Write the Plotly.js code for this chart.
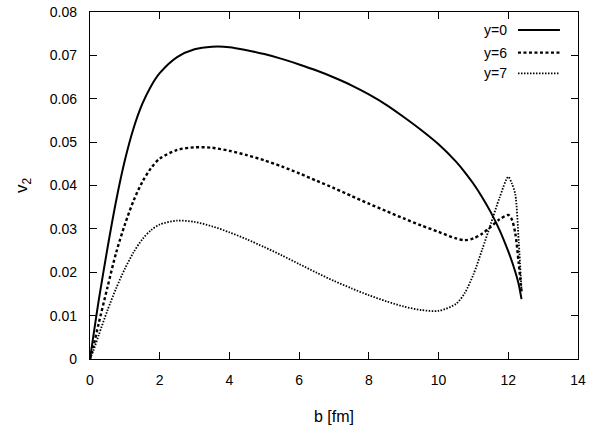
<!DOCTYPE html>
<html>
<head>
<meta charset="utf-8">
<script src="https://cdn.plot.ly/plotly-3.0.1.min.js"></script>
<style>html,body{margin:0;padding:0;background:#fff;}#chart{width:596px;height:425px;}</style>
</head>
<body>
<div id="chart"></div>
<script>
// impact parameter b [fm]
const bValues = [0, 0.1, 0.25, 0.5, 0.75, 1, 1.25, 1.5, 1.75, 2, 2.5, 3, 3.5, 4, 4.5, 5, 5.5, 6, 6.5, 7, 7.5, 8, 8.5, 9, 9.5, 10, 10.5, 10.75, 11, 11.25, 11.5, 11.75, 12, 12.1, 12.2, 12.3, 12.38];
// v2 at rapidity y=0
const v2_y0 = [0, 0.0055, 0.0135, 0.0255, 0.0365, 0.0458, 0.0532, 0.0588, 0.0629, 0.0659, 0.0696, 0.0714, 0.072, 0.0719, 0.0712, 0.0703, 0.0692, 0.0679, 0.0665, 0.0649, 0.0631, 0.061, 0.0586, 0.0558, 0.0528, 0.0495, 0.0455, 0.0431, 0.0404, 0.0373, 0.0338, 0.0297, 0.0248, 0.0226, 0.0201, 0.0172, 0.0138];
// v2 at rapidity y=6
const v2_y6 = [0, 0.003, 0.0082, 0.0165, 0.0245, 0.031, 0.0365, 0.0408, 0.044, 0.0462, 0.0482, 0.0488, 0.0487, 0.048, 0.047, 0.0458, 0.0444, 0.0428, 0.0411, 0.0394, 0.0376, 0.0358, 0.0341, 0.0324, 0.0308, 0.0293, 0.0278, 0.0274, 0.0278, 0.0289, 0.0305, 0.0322, 0.0332, 0.0322, 0.029, 0.022, 0.0155];
// v2 at rapidity y=7
const v2_y7 = [0, 0.002, 0.0055, 0.0112, 0.0163, 0.0208, 0.0246, 0.0276, 0.0297, 0.031, 0.0319, 0.0316, 0.0306, 0.0292, 0.0276, 0.0258, 0.0239, 0.0219, 0.0199, 0.018, 0.0163, 0.0147, 0.0133, 0.0121, 0.0113, 0.0111, 0.0127, 0.0152, 0.0195, 0.0252, 0.0312, 0.0372, 0.042, 0.0405, 0.038, 0.027, 0.0158];

const seriesNames = ['y=0', 'y=6', 'y=7'];
const seriesData = [v2_y0, v2_y6, v2_y7];
const dashes = ['solid', '3px,2.5px', '1.5px,1.5px'];
const widths = [2, 2.4, 1.8];

const xTicks = [0, 2, 4, 6, 8, 10, 12, 14];
const yTicks = [0, 0.01, 0.02, 0.03, 0.04, 0.05, 0.06, 0.07, 0.08];

const traces = seriesData.map((ys, i) => ({
  x: bValues, y: ys, type: 'scatter', mode: 'lines', name: seriesNames[i],
  line: {color: '#000', width: widths[i], dash: dashes[i], shape: 'spline', smoothing: 0.8},
  showlegend: false, hoverinfo: 'skip'
}));

// gnuplot-style key: text then sample line
const keyY = [0.948, 0.883, 0.823];
const annotations = seriesNames.map((n, i) => ({
  xref: 'paper', yref: 'paper', x: 0.8586, y: keyY[i], xanchor: 'right', yanchor: 'middle',
  text: n, showarrow: false, font: {size: 14, color: '#000'}
}));
const shapes = seriesNames.map((n, i) => ({
  type: 'line', xref: 'paper', yref: 'paper', x0: 0.877, x1: 0.963, y0: keyY[i], y1: keyY[i],
  line: {color: '#000', width: widths[i], dash: dashes[i]}
}));

const axisCommon = {
  showgrid: false, zeroline: false, showline: true, linecolor: '#000', linewidth: 1.2,
  mirror: 'ticks', ticks: 'inside', ticklen: 7, tickcolor: '#000', tickwidth: 1,
  tickfont: {size: 14, color: '#000'}
};

const layout = {
  width: 596, height: 425,
  margin: {l: 90, r: 18, t: 12, b: 66},
  paper_bgcolor: '#fff', plot_bgcolor: '#fff',
  font: {family: 'Liberation Sans, Arial, sans-serif', size: 14, color: '#000'},
  xaxis: Object.assign({}, axisCommon, {
    range: [0, 14], tickvals: xTicks, ticktext: xTicks.map(String),
    ticklabelstandoff: 8,
    title: {text: 'b [fm]', font: {size: 16}, standoff: 23}
  }),
  yaxis: Object.assign({}, axisCommon, {
    range: [0, 0.08], tickvals: yTicks, ticktext: yTicks.map(v => v === 0 ? '0' : v.toFixed(2)),
    ticklabelstandoff: 9,
    title: {text: 'v<sub>2</sub>', font: {size: 17}, standoff: 17}
  }),
  annotations: annotations,
  shapes: shapes,
  showlegend: false
};

Plotly.newPlot('chart', traces, layout, {displayModeBar: false, staticPlot: true});
</script>
</body>
</html>
